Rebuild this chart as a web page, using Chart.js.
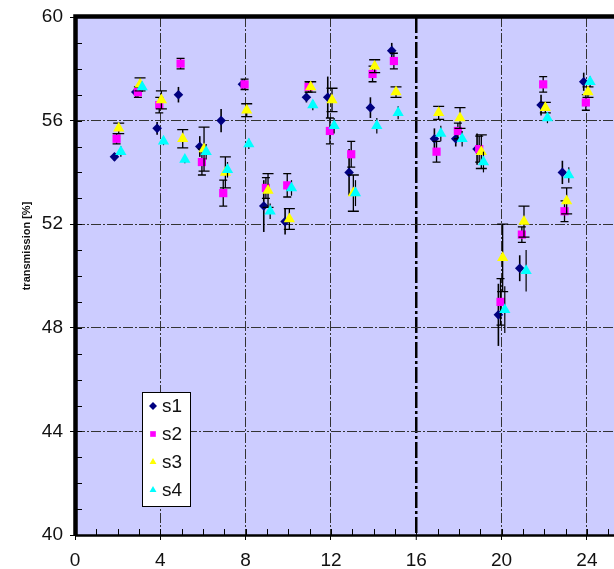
<!DOCTYPE html>
<html>
<head>
<meta charset="utf-8">
<script src="https://cdn.jsdelivr.net/npm/chart.js@4/dist/chart.umd.min.js"></script>
<style>
  html, body { margin: 0; padding: 0; background: #fff; }
  #wrap { width: 614px; height: 569px; }
</style>
</head>
<body>
<div id="wrap"><canvas id="c" width="614" height="569"></canvas></div>
<script>
// sample positions (measurement index) - no sample 16
const xVals = [2, 3, 4, 5, 6, 7, 8, 9, 10, 11, 12, 13, 14, 15, 17, 18, 19, 20, 21, 22, 23, 24];

// transmission [%] per series
const s1 = [54.6, 57.1, 55.7, 57.0, 55.0, 56.0, 57.4, 52.7, 52.1, 56.9, 56.9, 54.0, 56.5, 58.7, 55.3, 55.3, 54.9, 48.5, 50.3, 56.6, 54.0, 57.5];
const s2 = [55.3, 57.1, 56.6, 58.2, 54.4, 53.2, 57.4, 53.4, 53.5, 57.3, 55.6, 54.7, 57.8, 58.3, 54.8, 55.6, 54.9, 49.0, 51.6, 57.4, 52.5, 56.7];
const s3 = [55.7, 57.4, 56.8, 55.3, 54.9, 54.0, 56.4, 53.3, 52.2, 57.3, 56.8, 53.2, 58.1, 57.1, 56.3, 56.1, 54.8, 50.7, 52.1, 56.5, 52.9, 57.1];
const s4 = [54.8, 57.3, 55.2, 54.5, 54.8, 54.1, 55.1, 52.5, 53.4, 56.6, 55.8, 53.2, 55.8, 56.3, 55.5, 55.3, 54.4, 48.7, 50.2, 56.1, 53.9, 57.5];

// error bar half lengths
const s1Err = [0.15, 0.2, 0.25, 0.3, 0.4, 0.45, 0.2, 1.0, 0.5, 0.2, 0.8, 0.9, 0.4, 0.3, 0.4, 0.3, 0.6, 1.2, 0.5, 0.4, 0.45, 0.35];
const s2Err = [0.2, 0.2, 0.3, 0.2, 0.5, 0.5, 0.2, 0.4, 0.45, 0.2, 0.5, 0.5, 0.3, 0.3, 0.4, 0.3, 0.5, 0.9, 0.3, 0.3, 0.4, 0.3];
const s3Err = [0.2, 0.25, 0.35, 0.35, 0.85, 0.6, 0.25, 0.65, 0.4, 0.2, 0.45, 0.7, 0.25, 0.2, 0.25, 0.4, 0.65, 1.3, 0.6, 0.2, 0.5, 0.2];
const s4Err = [0.2, 0.2, 0.15, 0.15, 0.3, 0.3, 0.2, 0.3, 0.3, 0.2, 0.3, 0.5, 0.3, 0.25, 0.3, 0.3, 0.4, 0.9, 0.8, 0.2, 0.3, 0.2];

const seriesNames = ['s1', 's2', 's3', 's4'];
const xTicks = [0, 4, 8, 12, 16, 20, 24];

const FONT = '"Liberation Sans", Arial, sans-serif';

function toPoints(vals, errs, shift) {
  return vals.map((v, i) => ({ x: xVals[i] + shift, y: v, err: errs[i] }));
}

// lavender plot background
const plotBg = {
  id: 'plotBg',
  beforeDraw(chart) {
    const { ctx, chartArea: a } = chart;
    ctx.save();
    ctx.fillStyle = '#ccccff';
    ctx.fillRect(a.left, a.top, a.right - a.left, a.bottom - a.top);
    ctx.restore();
  }
};

// vertical error bars, drawn just before each dataset's markers
const errorBars = {
  id: 'errorBars',
  beforeDatasetDraw(chart, args) {
    const ds = chart.data.datasets[args.index];
    const y = chart.scales.y;
    const ctx = chart.ctx;
    ctx.save();
    ctx.strokeStyle = '#000';
    ctx.lineWidth = ds.errWidth || 1.2;
    args.meta.data.forEach((pt, i) => {
      const d = ds.data[i];
      const top = y.getPixelForValue(d.y + d.err);
      const bot = y.getPixelForValue(d.y - d.err);
      ctx.beginPath();
      ctx.moveTo(pt.x, top);
      ctx.lineTo(pt.x, bot);
      if (ds.errCap) {
        ctx.moveTo(pt.x - ds.errCap, top);
        ctx.lineTo(pt.x + ds.errCap, top);
        ctx.moveTo(pt.x - ds.errCap, bot);
        ctx.lineTo(pt.x + ds.errCap, bot);
      }
      ctx.stroke();
    });
    ctx.restore();
  }
};

// frame, inner minor ticks, axis title and the boxed legend
const extras = {
  id: 'extras',
  afterDraw(chart) {
    const { ctx, chartArea: a, scales } = chart;
    const x = scales.x, y = scales.y;
    ctx.save();
    // minor ticks pointing inside
    ctx.strokeStyle = '#000';
    ctx.lineWidth = 1;
    ctx.beginPath();
    for (let v = 1; v <= 25; v++) {
      const px = Math.round(x.getPixelForValue(v)) + 0.5;
      ctx.moveTo(px, a.bottom);
      ctx.lineTo(px, a.bottom - 6);
    }
    for (let v = 41; v < 60; v++) {
      const py = Math.round(y.getPixelForValue(v)) + 0.5;
      ctx.moveTo(a.left, py);
      ctx.lineTo(a.left + 7, py);
    }
    ctx.stroke();

    // frame
    ctx.lineWidth = 4.5;
    ctx.beginPath();
    ctx.moveTo(a.left + 0.5, a.bottom + 1);
    ctx.lineTo(a.left + 0.5, a.top - 0.5);
    ctx.lineTo(a.right, a.top - 0.5);
    ctx.stroke();
    ctx.lineWidth = 2.5;
    ctx.beginPath();
    ctx.moveTo(a.left, a.bottom + 0.5);
    ctx.lineTo(a.right, a.bottom + 0.5);
    ctx.stroke();

    // y axis title
    ctx.save();
    ctx.translate(27, 246);
    ctx.rotate(-Math.PI / 2);
    ctx.fillStyle = '#111';
    ctx.font = 'bold 11px ' + FONT;
    ctx.textAlign = 'center';
    ctx.textBaseline = 'middle';
    ctx.fillText('transmission [%]', 0, 0);
    ctx.restore();

    // legend box
    const bx = 142, by = 392, bw = 48, bh = 114;
    ctx.fillStyle = '#fff';
    ctx.fillRect(bx, by, bw, bh);
    ctx.strokeStyle = '#000';
    ctx.lineWidth = 1;
    ctx.strokeRect(bx + 0.5, by + 0.5, bw, bh);
    chart.data.datasets.forEach((ds, i) => {
      const cy = 406 + i * 28;
      ctx.fillStyle = ds.backgroundColor;
      if (Chart.helpers && Chart.helpers.drawPoint) {
        Chart.helpers.drawPoint(ctx, { pointStyle: ds.pointStyle, radius: 4, rotation: 0, borderWidth: 0 }, 153, cy);
      } else {
        ctx.fillRect(149, cy - 4, 8, 8);
      }
      ctx.fillStyle = '#111';
      ctx.font = '19px ' + FONT;
      ctx.textAlign = 'left';
      ctx.textBaseline = 'middle';
      ctx.fillText(ds.label, 162, cy + 1);
    });
    ctx.restore();
  }
};

const gridDash = ctx => (ctx.tick && ctx.tick.value === 16 ? [16, 3, 3, 3] : [10, 2, 2, 2]);

new Chart(document.getElementById('c'), {
  type: 'scatter',
  data: {
    datasets: [
      { label: seriesNames[0], data: toPoints(s1, s1Err, -0.15), pointStyle: 'rectRot', pointRadius: 4.8,
        backgroundColor: '#000080', borderWidth: 0, order: 3, errWidth: 1.6, errCap: 0 },
      { label: seriesNames[1], data: toPoints(s2, s2Err, -0.05), pointStyle: 'rect', pointRadius: 5.8,
        backgroundColor: '#ff00ff', borderWidth: 0, order: 2, errWidth: 1.3, errCap: 4 },
      { label: seriesNames[2], data: toPoints(s3, s3Err, 0.05), pointStyle: 'triangle', pointRadius: 6.5,
        backgroundColor: '#ffff00', borderWidth: 0, order: 1, errWidth: 1.3, errCap: 5.5 },
      { label: seriesNames[3], data: toPoints(s4, s4Err, 0.15), pointStyle: 'triangle', pointRadius: 6.5,
        backgroundColor: '#00ffff', borderWidth: 0, order: 0, errWidth: 1.2, errCap: 0 }
    ]
  },
  options: {
    responsive: false,
    animation: false,
    layout: { autoPadding: false, padding: { top: 17, right: 0, left: 0, bottom: 0 } },
    elements: { point: { borderWidth: 0, hoverRadius: 5 } },
    plugins: {
      legend: { display: false },
      tooltip: { enabled: false }
    },
    scales: {
      x: {
        type: 'linear',
        min: 0,
        max: 25.27,
        afterBuildTicks: s => { s.ticks = xTicks.map(v => ({ value: v })); },
        afterFit: s => { s.height = 34; s.paddingLeft = 0; s.paddingRight = 0; },
        border: { display: false, dash: gridDash },
        grid: {
          color: c => (c.tick && c.tick.value === 16 ? '#000' : '#333'),
          lineWidth: c => (c.tick && c.tick.value === 16 ? 2.5 : 1),
          tickLength: 5,
          tickColor: '#000',
          tickWidth: 1
        },
        ticks: { color: '#111', font: { family: FONT, size: 19 }, padding: 9, maxRotation: 0 }
      },
      y: {
        min: 40,
        max: 60,
        afterFit: s => { s.width = 75; s.paddingTop = 0; s.paddingBottom = 0; },
        border: { display: false, dash: [10, 2, 2, 2] },
        grid: {
          color: '#333',
          lineWidth: 1,
          tickLength: 5,
          tickColor: '#000',
          tickWidth: 1
        },
        ticks: { stepSize: 4, color: '#111', font: { family: FONT, size: 19 }, padding: 7 }
      }
    }
  },
  plugins: [plotBg, errorBars, extras]
});
</script>
</body>
</html>
